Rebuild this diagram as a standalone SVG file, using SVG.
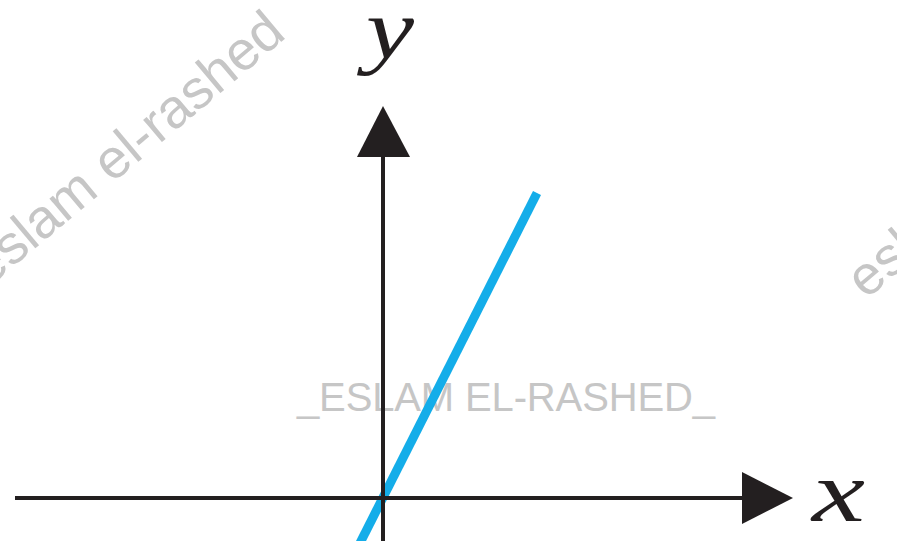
<svg xmlns="http://www.w3.org/2000/svg" width="897" height="541" viewBox="0 0 897 541">
<style>
.wm{font-family:"Liberation Sans",Arial,sans-serif;fill:#c6c6c6}
.axis{stroke:#231f20;stroke-width:4;fill:none}
.head{fill:#231f20}
.lbl{font-family:"Liberation Serif","Times New Roman",serif;font-style:italic;fill:#231f20}
</style>
<rect width="897" height="541" fill="#ffffff"/>
<g id="watermarks">
<text class="wm" font-size="55" transform="translate(-12,288) rotate(-40)">eslam el-rashed</text>
<text class="wm" font-size="55" transform="translate(866,300) rotate(-40)">eslam el-rashed</text>
<text class="wm" font-size="40" x="297" y="411" textLength="418">_ESLAM EL-RASHED_</text>
</g>
<g id="line">
<line x1="537" y1="193" x2="359" y2="545" stroke="#14ade9" stroke-width="9"/>
</g>
<g id="connectors">
<line class="axis" x1="383" y1="155" x2="383" y2="541"/>
<line class="axis" x1="15" y1="498" x2="744" y2="498"/>
<polygon class="head" points="383,106 410,157 357,157"/>
<polygon class="head" points="793,498 742,472 742,524"/>
</g>
<g id="y-label"><text class="lbl" font-size="84" x="366" y="58" textLength="48" lengthAdjust="spacingAndGlyphs">y</text></g>
<g id="x-label"><text class="lbl" font-size="86" x="812" y="521" textLength="53" lengthAdjust="spacingAndGlyphs">x</text></g>
</svg>
